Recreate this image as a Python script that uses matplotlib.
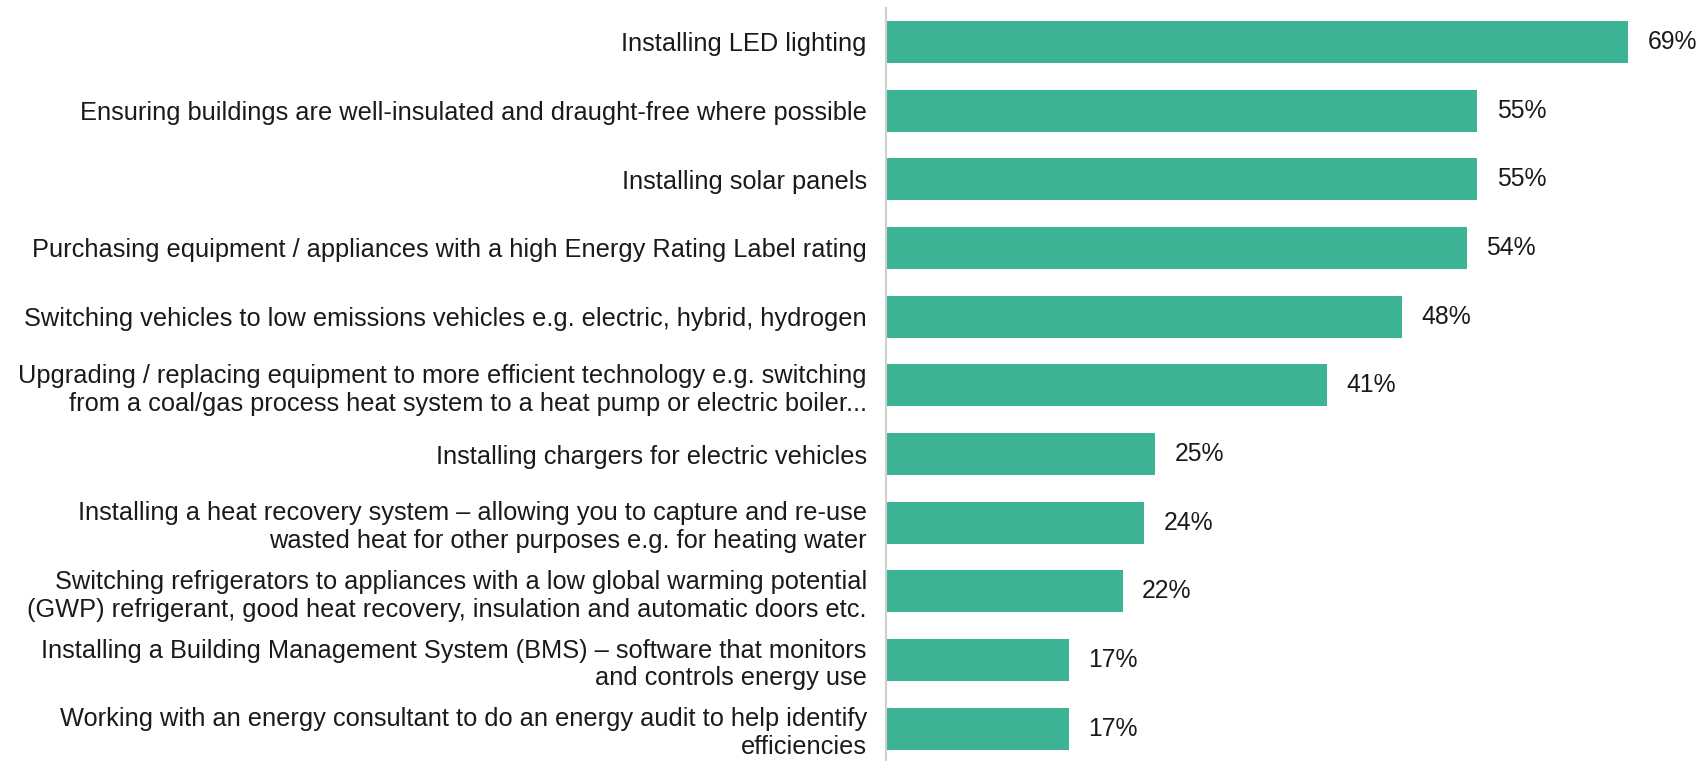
import matplotlib.pyplot as plt

labels = [
    "Installing LED lighting",
    "Ensuring buildings are well-insulated and draught-free where possible",
    "Installing solar panels",
    "Purchasing equipment / appliances with a high Energy Rating Label rating",
    "Switching vehicles to low emissions vehicles e.g. electric, hybrid, hydrogen",
    "Upgrading / replacing equipment to more efficient technology e.g. switching\n"
    "from a coal/gas process heat system to a heat pump or electric boiler...",
    "Installing chargers for electric vehicles",
    "Installing a heat recovery system \u2013 allowing you to capture and re-use\n"
    "wasted heat for other purposes e.g. for heating water",
    "Switching refrigerators to appliances with a low global warming potential\n"
    "(GWP) refrigerant, good heat recovery, insulation and automatic doors etc.",
    "Installing a Building Management System (BMS) \u2013 software that monitors\n"
    "and controls energy use",
    "Working with an energy consultant to do an energy audit to help identify\n"
    "efficiencies",
]
values = [69, 55, 55, 54, 48, 41, 25, 24, 22, 17, 17]

fig = plt.figure(figsize=(17.01, 7.61), dpi=100)
ax = fig.add_axes([0.521, 0.0, 0.474, 0.99])

y = list(range(len(values)))
ax.barh(y, values, height=0.61, color="#3BB394")
ax.set_ylim(len(values) - 0.53, -0.5)
ax.set_xlim(0, 75)

for yi, v in zip(y, values):
    ax.text(v + 1.8, yi, f"{v}%", va="center", ha="left",
            fontsize=17.8, family="Liberation Sans", color="#1a1a1a")

ax.set_yticks(y)
ax.set_yticklabels(labels, fontsize=18.3, family="Liberation Sans", color="#1a1a1a",
                   multialignment="right", linespacing=1.2)
ax.tick_params(axis="y", length=0, pad=14)
ax.set_xticks([])
for side in ["top", "right", "bottom"]:
    ax.spines[side].set_visible(False)
ax.spines["left"].set_color("#d0d0d0")
ax.spines["left"].set_linewidth(1.5)

fig.savefig("out.png", dpi=100)
